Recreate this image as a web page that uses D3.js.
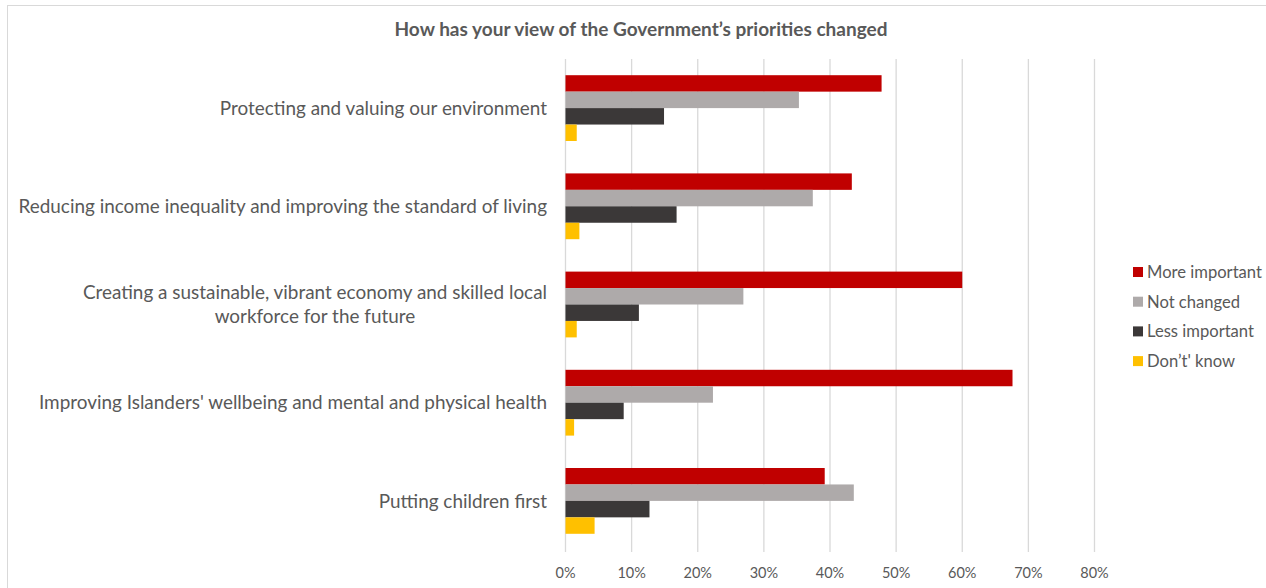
<!DOCTYPE html>
<html><head><meta charset="utf-8">
<script src="https://cdn.jsdelivr.net/npm/d3@7"></script>
<style>html,body{margin:0;padding:0;background:#fff;overflow:hidden}svg{display:block}</style>
</head><body>
<svg id="c" width="1266" height="588"></svg>
<script>
const categories = [
  ["Protecting and valuing our environment"],
  ["Reducing income inequality and improving the standard of living"],
  ["Creating a sustainable, vibrant economy and skilled local", "workforce for the future"],
  ["Improving Islanders' wellbeing and mental and physical health"],
  ["Putting children first"]
];
const seriesNames = ["More important", "Not changed", "Less important", "Don\u2019t' know"];
const moreImportant = [47.8, 43.3, 60.0, 67.6, 39.2];
const notChanged    = [35.3, 37.4, 26.9, 22.3, 43.6];
const lessImportant = [14.9, 16.8, 11.1, 8.8, 12.7];
const dontKnow      = [1.7, 2.1, 1.7, 1.3, 4.4];
const xTicks = [0, 10, 20, 30, 40, 50, 60, 70, 80];
const colors = ["#C00000", "#AEAAAA", "#3B3838", "#FFC000"];
const title = "How has your view of the Government\u2019s priorities changed";

const seriesValues = [moreImportant, notChanged, lessImportant, dontKnow];
const svg = d3.select("#c");
const FONT = "Lato, 'Open Sans', sans-serif";
const TXT = "#595959";

// chart border
svg.append("rect").attr("x", 7.5).attr("y", 5.5).attr("width", 1300).attr("height", 700)
  .attr("fill", "none").attr("stroke", "#D9D9D9").attr("stroke-width", 1);

const x = d3.scaleLinear().domain([0, 80]).range([565.5, 1094.5]);
const y = d3.scaleBand().domain(d3.range(categories.length)).range([59, 550]).paddingInner(0.33).paddingOuter(0.165);
const ySub = d3.scaleBand().domain(d3.range(seriesNames.length)).range([0, y.bandwidth()]);

function fit(sel, target) {
  const w = sel.node().getComputedTextLength();
  const fs = parseFloat(sel.attr("font-size"));
  sel.attr("font-size", (fs * target / w).toFixed(2));
}

// gridlines
svg.append("g").selectAll("line").data(xTicks).join("line")
  .attr("x1", d => x(d)).attr("x2", d => x(d)).attr("y1", 59).attr("y2", 552)
  .attr("stroke", "#D9D9D9").attr("stroke-width", 1.3);

// bars
const g = svg.append("g");
categories.forEach((c, i) => {
  seriesValues.forEach((vals, s) => {
    g.append("rect")
      .attr("x", x(0)).attr("y", y(i) + ySub(s))
      .attr("width", x(vals[i]) - x(0)).attr("height", ySub.bandwidth())
      .attr("fill", colors[s]);
  });
});

// x tick labels
const xAxis = svg.append("g").attr("transform", "translate(0,578)");
xAxis.selectAll("text").data(xTicks).join("text")
  .attr("x", d => x(d)).attr("text-anchor", "middle")
  .attr("font-family", FONT).attr("font-size", 14.5).attr("fill", TXT)
  .text(d => d + "%");

// category labels
const probe = svg.append("text").attr("font-family", FONT).attr("font-size", 17)
  .text(categories[1][0]);
fit(probe, 529);
const catFS = +probe.attr("font-size");
probe.remove();

categories.forEach((lines, i) => {
  const cy = y(i) + y.bandwidth() / 2;
  const t = svg.append("text").attr("font-family", FONT).attr("font-size", catFS).attr("fill", TXT);
  const lh = 24;
  const widths = lines.map(l => {
    const p = svg.append("text").attr("font-family", FONT).attr("font-size", catFS).text(l);
    const w = p.node().getComputedTextLength(); p.remove(); return w;
  });
  const maxW = d3.max(widths);
  const centerX = 547 - maxW / 2;
  lines.forEach((l, k) => {
    t.append("tspan").attr("x", centerX).attr("text-anchor", "middle")
      .attr("y", cy + (k - (lines.length - 1) / 2) * lh)
      .attr("dy", "0.35em").text(l);
  });
});

// title
const tt = svg.append("text").attr("x", 641).attr("y", 36).attr("text-anchor", "middle")
  .attr("font-family", FONT).attr("font-weight", "bold").attr("font-size", 16).attr("fill", TXT)
  .text(title);
fit(tt, 493);

// legend
const lp = svg.append("text").attr("font-family", FONT).attr("font-size", 15).text(seriesNames[0]);
fit(lp, 115);
const legFS = +lp.attr("font-size");
lp.remove();
const lg = svg.append("g");
seriesNames.forEach((n, s) => {
  const ly = 272 + s * 29.7;
  lg.append("rect").attr("x", 1133).attr("y", ly - 5).attr("width", 10).attr("height", 10).attr("fill", colors[s]);
  lg.append("text").attr("x", 1147).attr("y", ly).attr("dy", "0.35em")
    .attr("font-family", FONT).attr("font-size", legFS).attr("fill", TXT).text(n);
});
</script>
</body></html>
